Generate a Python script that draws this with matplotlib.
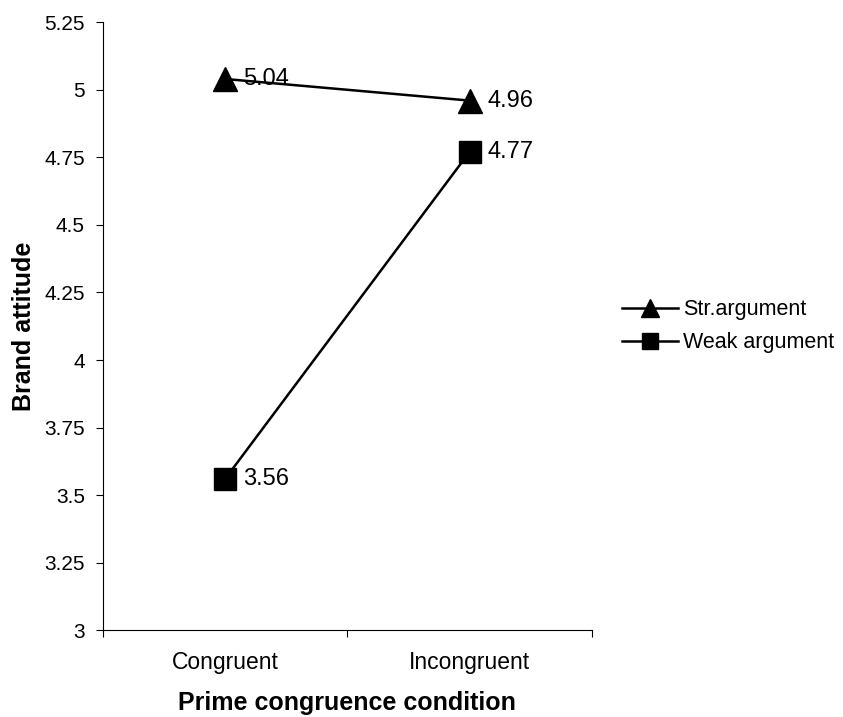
import matplotlib
matplotlib.use("Agg")
import matplotlib.pyplot as plt

conditions = ["Congruent", "Incongruent"]
strong = [5.04, 4.96]
weak = [3.56, 4.77]
yticks = [3, 3.25, 3.5, 3.75, 4, 4.25, 4.5, 4.75, 5, 5.25]
ytick_labels = ["3", "3.25", "3.5", "3.75", "4", "4.25", "4.5", "4.75", "5", "5.25"]

plt.rcParams['font.family'] = ['Liberation Sans', 'DejaVu Sans']

fig = plt.figure(figsize=(8.43, 7.17), dpi=100)
ax = fig.add_axes([0.122, 0.121, 0.58, 0.848])

xs = [0.5, 1.5]
ax.plot(xs, strong, color="black", lw=1.8, marker="^", markersize=17, label="Str.argument")
ax.plot(xs, weak, color="black", lw=1.8, marker="s", markersize=16, label="Weak argument")

# data labels right of each marker
for x, v in zip(xs, strong):
    ax.text(x + 0.072, v, f"{v:.2f}", fontsize=17, va="center", ha="left")
for x, v in zip(xs, weak):
    ax.text(x + 0.072, v, f"{v:.2f}", fontsize=17, va="center", ha="left")

ax.set_xlim(0, 2)
ax.set_ylim(3, 5.25)
ax.set_yticks(yticks)
ax.set_yticklabels(ytick_labels, fontsize=15)
ax.set_xticks([0, 1, 2])
ax.set_xticklabels([])
ax.set_xticks(xs, minor=True)
ax.set_xticklabels(conditions, minor=True, fontsize=16.5)
ax.tick_params(axis="x", which="minor", length=0, pad=15)
ax.tick_params(axis="x", which="major", length=5, direction="out")
ax.tick_params(axis="y", length=5, direction="out", pad=8)

for s in ["top", "right"]:
    ax.spines[s].set_visible(False)

ax.set_ylabel("Brand attitude", fontsize=18, fontweight="bold", labelpad=6)
ax.set_xlabel("Prime congruence condition", fontsize=18, fontweight="bold", labelpad=12)

fig.legend(loc="center left", bbox_to_anchor=(0.738, 0.545), frameon=False,
           fontsize=15.5, handlelength=2.6, handletextpad=0.24, labelspacing=0.55,
           borderpad=0, borderaxespad=0, markerscale=0.75)

fig.savefig("out.png", dpi=100)
